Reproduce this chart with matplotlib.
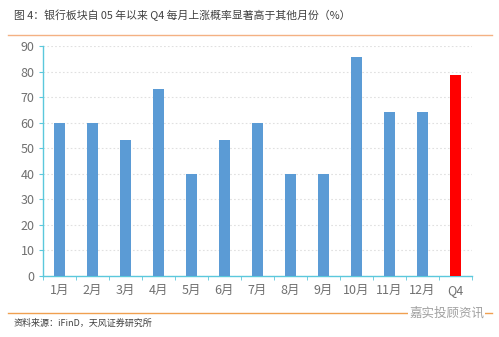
import numpy as np
import matplotlib.pyplot as plt
from matplotlib.ticker import FixedLocator

plt.rcParams['font.family'] = ['Noto Sans CJK SC', 'DejaVu Sans']

# data (%)
months = ["1月", "2月", "3月", "4月", "5月", "6月", "7月", "8月", "9月", "10月", "11月", "12月", "Q4"]
prob = [60.0, 60.0, 53.3, 73.3, 40.0, 53.3, 60.0, 40.0, 40.0, 85.7, 64.3, 64.3, 78.6]
colors = ["#5B9BD5"] * 12 + ["#FF0000"]

title = "图 4：银行板块自 05 年以来 Q4 每月上涨概率显著高于其他月份（%）"
source = "资料来源：iFinD，天风证券研究所"
watermark = "嘉实投顾资讯"

axis_col = "#5BC8DC"
text_col = "#707070"

fig = plt.figure(figsize=(4.99, 3.37), dpi=100)
ax = fig.add_axes([0.086, 0.181, 0.86, 0.6825])

x = np.arange(len(months))
ax.bar(x, prob, width=0.31, color=colors, zorder=3)

ax.set_xlim(-0.5, len(months) - 0.5)
ax.set_ylim(0, 90)
ax.set_yticks(range(0, 91, 10))
ax.set_xticks(x)
ax.set_xticklabels(months)
ax.xaxis.set_minor_locator(FixedLocator(np.arange(-0.5, len(months), 1)))
ax.tick_params(axis="x", which="major", length=0, pad=6, labelsize=9, labelcolor=text_col)
ax.tick_params(axis="x", which="minor", length=3, color=axis_col, direction="out")
ax.tick_params(axis="y", length=3, color=axis_col, labelsize=9, labelcolor=text_col, pad=3)

ax.grid(axis="y", color="#E0E0E0", linestyle=(0, (1.5, 2)), linewidth=0.8, zorder=0)
for s in ["top", "right"]:
    ax.spines[s].set_visible(False)
for s in ["left", "bottom"]:
    ax.spines[s].set_color(axis_col)
    ax.spines[s].set_linewidth(1.0)

# header / footer
fig.text(0.028, 0.955, title, fontsize=7.8, color="#404040", va="center", ha="left")
fig.add_artist(plt.Line2D([0.016, 0.986], [0.896, 0.896], color="#F4B183", linewidth=1.0))
fig.add_artist(plt.Line2D([0.016, 0.986], [0.072, 0.072], color="#F0A050", linewidth=1.0))
fig.text(0.028, 0.042, source, fontsize=6.5, color="#404040", va="center", ha="left")
fig.text(0.97, 0.072, watermark, fontsize=9, color="#A0A0A0", va="center", ha="right",
         bbox=dict(facecolor="white", edgecolor="none", pad=1))

plt.savefig("out.png", dpi=100)
